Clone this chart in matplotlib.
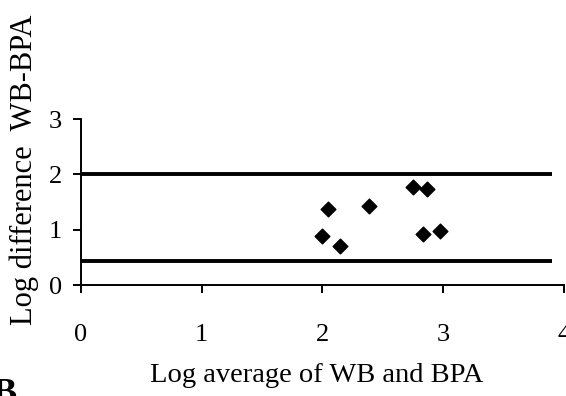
"""Bland-Altman style plot: log difference vs log average of WB and BPA."""

import matplotlib
matplotlib.use('Agg')
import matplotlib.pyplot as plt

# data
log_avg = [2.05, 2.00, 2.15, 2.39, 2.75, 2.87, 2.83, 2.97]
log_diff = [1.37, 0.88, 0.70, 1.42, 1.78, 1.74, 0.93, 0.98]
limit_levels = [2.01, 0.44]
limit_span = [0.0, 3.9]
x_ticks = [0, 1, 2, 3, 4]
y_ticks = [0, 1, 2, 3]

W, H = 566, 396
plt.rcParams['font.family'] = ['Liberation Serif', 'DejaVu Serif']

fig = plt.figure(figsize=(W / 100, H / 100), dpi=100)
fig.patch.set_facecolor('white')

# axes placed in pixel terms: x 0..4 -> 80.7..564 px, y 0..3 -> 285..119 px
ax = fig.add_axes([80.7 / W, (H - 285) / H, (564 - 80.7) / W, (285 - 119) / H])
ax.set_xlim(0, 4)
ax.set_ylim(0, 3)

for lvl in limit_levels:
    ax.hlines(lvl, limit_span[0], limit_span[1], color='black', lw=2.8,
              clip_on=False, zorder=2)

ax.scatter(log_avg, log_diff, marker='D', s=56, color='black',
           zorder=3, clip_on=False)

for side in ('top', 'right'):
    ax.spines[side].set_visible(False)
for side in ('left', 'bottom'):
    ax.spines[side].set_linewidth(1.4)
ax.spines['left'].set_bounds(0, 3)
ax.spines['bottom'].set_bounds(0, 4)

ax.set_xticks(x_ticks)
ax.set_yticks(y_ticks)
ax.set_xticklabels([str(t) for t in x_ticks])
ax.set_yticklabels([str(t) for t in y_ticks])
ax.tick_params(axis='x', direction='out', length=6, width=1.4,
               pad=22, labelsize=19)
ax.tick_params(axis='y', direction='out', length=5.5, width=1.4,
               pad=8, labelsize=19)
ax.patch.set_alpha(0)

fig.text(317 / W, 1 - 382 / H, 'Log average of WB and BPA',
         fontsize=20.5, ha='center', va='baseline', color='black')
fig.text(24 / W, 1 - 170 / H, 'Log difference  WB-BPA',
         fontsize=22, rotation=90, ha='center', va='center', color='black')

# panel letter, mostly cut off by the bottom edge (as in the source figure)
fig.text(-8 / W, 1 - 378 / H, 'B', fontsize=26, fontweight='bold',
         ha='left', va='top', color='black')

fig.savefig('out.png', dpi=100, facecolor='white')
plt.close(fig)
